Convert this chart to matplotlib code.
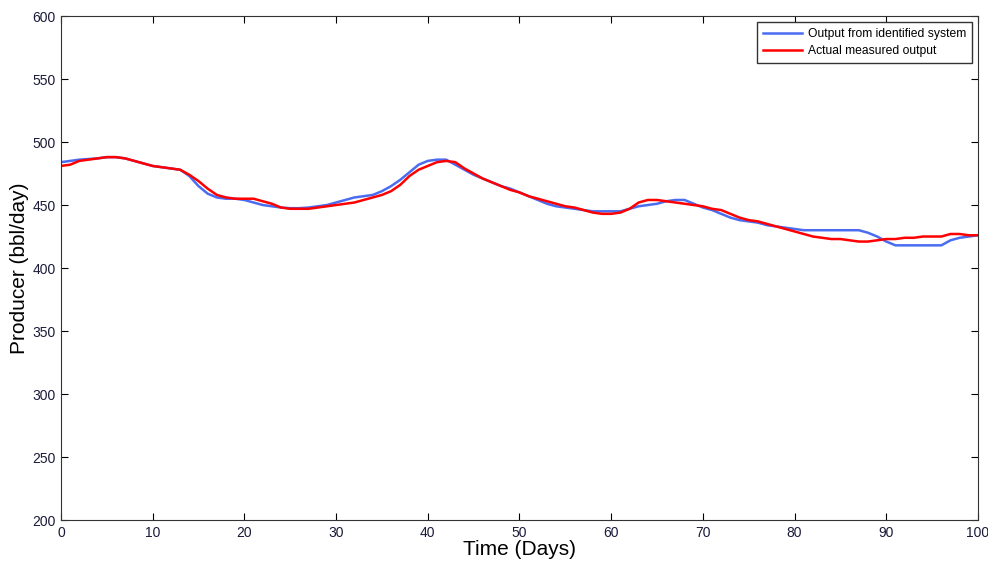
import matplotlib
matplotlib.use("Agg")
import matplotlib.pyplot as plt
import numpy as np

plt.rcParams['font.family'] = ['Liberation Sans', 'DejaVu Sans']

days = np.arange(0, 101)

identified = [484, 485, 486, 486.5, 487, 488, 488, 487, 485, 483,
              481, 480, 479, 478, 473, 465, 459, 456, 455, 455,
              454, 452, 450, 449, 448, 447.5, 447.5, 448, 449, 450,
              452, 454, 456, 457, 458, 461, 465, 470, 476, 482,
              485, 486, 486, 482, 478, 474, 471, 468, 465, 463,
              460, 457, 454, 451, 449, 448, 447, 446, 445, 445,
              445, 445, 447, 449, 450, 451, 453, 454, 454, 451,
              448, 446, 443, 440, 438, 437, 436, 434, 433, 432,
              431, 430, 430, 430, 430, 430, 430, 430, 428, 425,
              421, 418, 418, 418, 418, 418, 418, 422, 424, 425,
              426]

measured = [481, 482, 485, 486, 487, 488, 488, 487, 485, 483,
            481, 480, 479, 478, 474, 469, 463, 458, 456, 455,
            455, 455, 453, 451, 448, 447, 447, 447, 448, 449,
            450, 451, 452, 454, 456, 458, 461, 466, 473, 478,
            481, 484, 485, 484, 479, 475, 471, 468, 465, 462,
            460, 457, 455, 453, 451, 449, 448, 446, 444, 443,
            443, 444, 447, 452, 454, 454, 453, 452, 451, 450,
            449, 447, 446, 443, 440, 438, 437, 435, 433, 431,
            429, 427, 425, 424, 423, 423, 422, 421, 421, 422,
            423, 423, 424, 424, 425, 425, 425, 427, 427, 426,
            426]

fig = plt.figure(figsize=(9.88, 5.62), dpi=100)
ax = fig.add_axes([0.0617, 0.0747, 0.9282, 0.8968])

ax.plot(days, identified, color='#4a6cf0', lw=1.8,
        label='Output from identified system')
ax.plot(days, measured, color='#ff0000', lw=1.8,
        label='Actual measured output')

ax.set_xlim(0, 100)
ax.set_ylim(200, 600)
ax.set_xticks(np.arange(0, 101, 10))
ax.set_yticks(np.arange(200, 601, 50))
ax.tick_params(direction='in', length=5, labelsize=10, labelcolor='#1a1a3a',
               top=True, right=True, pad=4)
for s in ax.spines.values():
    s.set_color('#333333')

ax.set_xlabel('Time (Days)', fontsize=15, labelpad=0)
ax.set_ylabel('Producer (bbl/day)', fontsize=15, labelpad=2)

leg = ax.legend(loc='upper right', fontsize=8.7, fancybox=False,
                edgecolor='#333333', framealpha=1, borderaxespad=0.5,
                handlelength=3.2, handletextpad=0.5, borderpad=0.5,
                labelspacing=0.4)
leg.get_frame().set_linewidth(1.0)

fig.savefig('out.png', dpi=100)
